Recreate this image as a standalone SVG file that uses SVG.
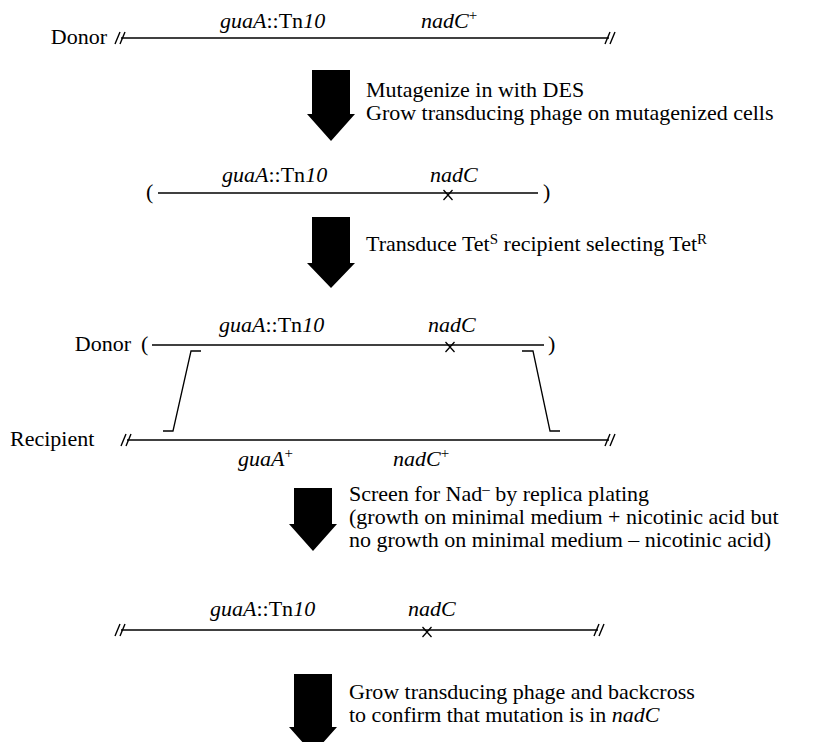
<svg xmlns="http://www.w3.org/2000/svg" xmlns:xlink="http://www.w3.org/1999/xlink" width="824" height="742" viewBox="0 0 824 742" font-family="'Liberation Serif', 'DejaVu Serif', serif">
  <style>
    text { font-family: 'Liberation Serif', 'DejaVu Serif', serif; font-size: 22px; fill: #000; }
    .i { font-style: italic; }
    .sup { font-size: 15px; }
    .chrom { stroke: #000; stroke-width: 1.6; fill: none; }
    .thin { stroke: #000; stroke-width: 1.3; fill: none; }
    .arrow { fill: #000; stroke: none; }
  </style>
  <defs>
    <!-- break mark "//" at a chromosome end -->
    <path id="brk" d="M-6,6 L-1,-6 M-1,6 L4,-6" stroke="#000" stroke-width="1.4" fill="none"/>
    <!-- mutation cross -->
    <path id="mut" d="M-4.5,-3 L4.5,7 M4.5,-3 L-4.5,7" stroke="#000" stroke-width="1.3" fill="none"/>
  </defs>
  <rect width="824" height="742" fill="#fff"/>

  <!-- Step 1: donor chromosome -->
  <g id="donor1">
    <text x="107" y="44" text-anchor="end">Donor</text>
    <line class="chrom" x1="121" y1="38" x2="609" y2="38"/>
    <use xlink:href="#brk" x="121" y="38"/>
    <use xlink:href="#brk" x="611" y="38"/>
    <text x="220" y="28"><tspan class="i">guaA</tspan>::Tn<tspan class="i">10</tspan></text>
    <text x="421" y="28"><tspan class="i">nadC</tspan><tspan class="sup" dy="-8">+</tspan></text>
  </g>

  <!-- Step 2: mutagenized transducing fragment -->
  <g id="fragment1">
    <text x="146" y="199">(</text>
    <line class="chrom" x1="158" y1="193" x2="538" y2="193"/>
    <text x="543" y="199">)</text>
    <use xlink:href="#mut" x="448" y="193"/>
    <text x="222" y="182"><tspan class="i">guaA</tspan>::Tn<tspan class="i">10</tspan></text>
    <text class="i" x="430" y="182">nadC</text>
  </g>

  <!-- Step 3: donor fragment crossing into recipient -->
  <g id="donor2">
    <text x="131" y="351" text-anchor="end">Donor</text>
    <text x="141" y="351">(</text>
    <line class="chrom" x1="152" y1="345" x2="544" y2="345"/>
    <text x="548" y="351">)</text>
    <use xlink:href="#mut" x="450" y="345"/>
    <text x="219" y="332"><tspan class="i">guaA</tspan>::Tn<tspan class="i">10</tspan></text>
    <text class="i" x="428" y="332">nadC</text>
  </g>

  <g id="recipient">
    <text x="10" y="446">Recipient</text>
    <line class="chrom" x1="127" y1="440" x2="609" y2="440"/>
    <use xlink:href="#brk" x="127" y="440"/>
    <use xlink:href="#brk" x="611" y="440"/>
    <text x="238" y="466"><tspan class="i">guaA</tspan><tspan class="sup" dy="-8">+</tspan></text>
    <text x="393" y="466"><tspan class="i">nadC</tspan><tspan class="sup" dy="-8">+</tspan></text>
  </g>

  <!-- Step 4: transductant chromosome -->
  <g id="transductant">
    <line class="chrom" x1="121" y1="630" x2="598" y2="630"/>
    <use xlink:href="#brk" x="121" y="630"/>
    <use xlink:href="#brk" x="600" y="630"/>
    <use xlink:href="#mut" x="427" y="630"/>
    <text x="210" y="616"><tspan class="i">guaA</tspan>::Tn<tspan class="i">10</tspan></text>
    <text class="i" x="408" y="616">nadC</text>
  </g>

  <!-- Connectors: block arrows and crossover lines -->
  <g id="connectors">
    <polygon class="arrow" points="312,70 350,70 350,114 355,114 331,141 307,114 312,114"/>
    <polygon class="arrow" points="312,217 350,217 350,263 355,263 331,288 307,263 312,263"/>
    <polygon class="arrow" points="294,488 332,488 332,524 337,524 313,551 289,524 294,524"/>
    <polygon class="arrow" points="294,674 332,674 332,727 337,727 313,754 289,727 294,727"/>
    <polyline class="thin" points="201,351 191,351 173,431 163,431"/>
    <polyline class="thin" points="522,351 533,351 550,431 560,431"/>
  </g>

  <!-- Step labels -->
  <g id="label1">
    <text x="366" y="97">Mutagenize in with DES</text>
    <text x="366" y="120">Grow transducing phage on mutagenized cells</text>
  </g>
  <g id="label2">
    <text x="366" y="251">Transduce Tet<tspan class="sup" dy="-7">S</tspan><tspan dy="7"> recipient selecting Tet</tspan><tspan class="sup" dy="-7">R</tspan></text>
  </g>
  <g id="label3">
    <text x="349" y="501">Screen for Nad<tspan class="sup" dy="-7">–</tspan><tspan dy="7"> by replica plating</tspan></text>
    <text x="349" y="524">(growth on minimal medium + nicotinic acid but</text>
    <text x="349" y="547">no growth on minimal medium – nicotinic acid)</text>
  </g>
  <g id="label4">
    <text x="349" y="699">Grow transducing phage and backcross</text>
    <text x="349" y="722">to confirm that mutation is in <tspan class="i">nadC</tspan></text>
  </g>
</svg>
